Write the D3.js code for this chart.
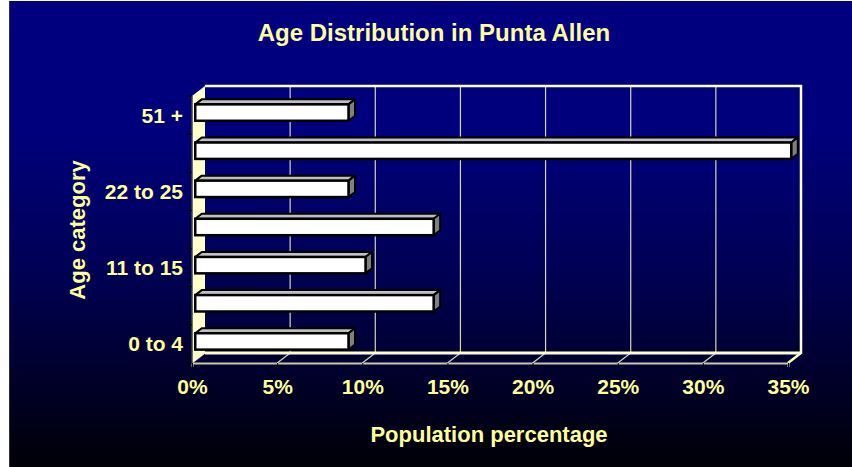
<!DOCTYPE html>
<html>
<head>
<meta charset="utf-8">
<script src="https://cdn.jsdelivr.net/npm/d3@7/dist/d3.min.js"></script>
<style>
  html, body { margin: 0; padding: 0; background: #ffffff; }
  svg { display: block; }
  text { font-family: "Liberation Sans", Arial, Helvetica, sans-serif; font-weight: bold; fill: #ffff99; }
</style>
</head>
<body>
<svg id="chart" width="852" height="467"></svg>
<script>
// Age groups, bottom to top
const categories = ["0 to 4", "5 to 10", "11 to 15", "16 to 21", "22 to 25", "26 to 50", "51 +"];
// Share of population in each group
const shares = [0.09, 0.14, 0.10, 0.14, 0.09, 0.35, 0.09];
// Labelled groups on the vertical axis
const shownCategories = ["0 to 4", "11 to 15", "22 to 25", "51 +"];
const xTickValues = [0, 0.05, 0.10, 0.15, 0.20, 0.25, 0.30, 0.35];

const titleText = "Age Distribution in Punta Allen";
const xTitle = "Population percentage";
const yTitle = "Age category";

const W = 852, H = 467;
const svg = d3.select("#chart");

// Backdrop: navy fading to black
const defs = svg.append("defs");
const grad = defs.append("linearGradient").attr("id", "bg").attr("x1", 0).attr("y1", 0).attr("x2", 0).attr("y2", 1);
grad.append("stop").attr("offset", "0%").attr("stop-color", "#000080");
grad.append("stop").attr("offset", "28%").attr("stop-color", "#00007c");
grad.append("stop").attr("offset", "62%").attr("stop-color", "#00004e");
grad.append("stop").attr("offset", "100%").attr("stop-color", "#000006");

svg.append("rect").attr("x", 0).attr("y", 0).attr("width", W).attr("height", H).attr("fill", "#ffffff");
svg.append("rect").attr("x", 10).attr("y", 1).attr("width", W - 10).attr("height", H - 1).attr("fill", "url(#bg)");
svg.append("line").attr("x1", 9.5).attr("x2", 9.5).attr("y1", 1).attr("y2", H).attr("stroke", "#303030").attr("stroke-width", 1);

// Front plane of the plot
const pLeft = 192, pRight = 788, pTop = 96, pBottom = 363;
// Depth of the 3-D box
const DX = 13, DY = -10;

const x = d3.scaleLinear().domain([0, 0.35]).range([pLeft, pRight]);
const ySlot = d3.scaleBand().domain(categories).range([pBottom, pTop]).padding(0);
const yBar = d3.scaleBand().domain(categories).range([pBottom, pTop]).paddingInner(0.57).paddingOuter(0.285);

const cream = "#ffffcc";
const gridCol = "#d6d6b8";

const plot = svg.append("g");

// Back wall gridlines
plot.selectAll("line.grid").data(xTickValues.slice(1, -1)).join("line")
  .attr("class", "grid")
  .attr("x1", d => x(d) + DX).attr("x2", d => x(d) + DX)
  .attr("y1", pTop + DY).attr("y2", pBottom + DY)
  .attr("stroke", gridCol).attr("stroke-width", 1.2);

// Floor gridlines (diagonals)
plot.selectAll("line.floor").data(xTickValues).join("line")
  .attr("class", "floor")
  .attr("x1", d => x(d)).attr("y1", pBottom)
  .attr("x2", d => x(d) + DX).attr("y2", pBottom + DY)
  .attr("stroke", gridCol).attr("stroke-width", 1.2);

// Left side wall
plot.append("path")
  .attr("d", `M${pLeft},${pTop}L${pLeft + DX},${pTop + DY}L${pLeft + DX},${pBottom + DY}L${pLeft},${pBottom}Z`)
  .attr("fill", cream);

// Back-wall frame: top edge, right edge, floor back edge
plot.append("path")
  .attr("d", `M${pLeft + DX},${pTop + DY}L${x(0.35) + DX},${pTop + DY}L${x(0.35) + DX},${pBottom + DY}L${x(0.35)},${pBottom}`)
  .attr("fill", "none").attr("stroke", cream).attr("stroke-width", 2.5);
plot.append("line")
  .attr("x1", pLeft + DX).attr("x2", x(0.35) + DX)
  .attr("y1", pBottom + DY).attr("y2", pBottom + DY)
  .attr("stroke", cream).attr("stroke-width", 3);

// Bars as 3-D boxes
const bx = DX * 0.25, by = DY * 0.25;     // front face depth
const bdx = DX * 0.5, bdy = DY * 0.5;     // bar depth
const data = categories.map((c, i) => ({ c, v: shares[i] }));

const bars = plot.selectAll("g.bar").data(data).join("g").attr("class", "bar");
bars.each(function(d) {
  const g = d3.select(this);
  const x0 = x(0) + bx, x1 = x(d.v) + bx;
  const y0 = yBar(d.c) + by, y1 = y0 + yBar.bandwidth();
  // top face
  g.append("path")
    .attr("d", `M${x0},${y0}L${x0 + bdx},${y0 + bdy}L${x1 + bdx},${y0 + bdy}L${x1},${y0}Z`)
    .attr("fill", "#c0c0c0").attr("stroke", "#000").attr("stroke-width", 2).attr("stroke-linejoin", "round");
  // end face
  g.append("path")
    .attr("d", `M${x1},${y0}L${x1 + bdx},${y0 + bdy}L${x1 + bdx},${y1 + bdy}L${x1},${y1}Z`)
    .attr("fill", "#808080").attr("stroke", "#000").attr("stroke-width", 2).attr("stroke-linejoin", "round");
  // front face
  g.append("rect")
    .attr("x", x0).attr("y", y0).attr("width", x1 - x0).attr("height", y1 - y0)
    .attr("fill", "#ffffff").attr("stroke", "#000").attr("stroke-width", 2.5);
});

// Horizontal axis line and ticks
const xAxis = d3.axisBottom(x).tickValues(xTickValues).tickSize(4).tickFormat(d3.format(".0%"));
const xg = svg.append("g").attr("transform", `translate(0,${pBottom})`).call(xAxis);
xg.select(".domain").attr("stroke", "#c8c8a8").attr("stroke-width", 2);
xg.selectAll(".tick line").attr("stroke", "#000");
xg.selectAll(".tick text").attr("y", 31).attr("dy", 0).attr("font-size", 21)
  .style("fill", "#ffff99").style("font-family", "'Liberation Sans', Arial, sans-serif").style("font-weight", "bold");

// Vertical axis line, ticks at group boundaries
const yg = svg.append("g");
yg.append("line").attr("x1", pLeft).attr("x2", pLeft).attr("y1", pTop).attr("y2", pBottom)
  .attr("stroke", "#404040").attr("stroke-width", 1.5);
const bounds = categories.map(c => ySlot(c)).concat([pBottom]);
yg.selectAll("line.tk").data(bounds).join("line").attr("class", "tk")
  .attr("x1", pLeft - 6).attr("x2", pLeft).attr("y1", d => d).attr("y2", d => d)
  .attr("stroke", "#000").attr("stroke-width", 1);
yg.selectAll("text").data(shownCategories).join("text")
  .attr("x", 183).attr("y", d => ySlot(d) + ySlot.bandwidth() / 2)
  .attr("dy", "0.36em").attr("text-anchor", "end").attr("font-size", 21)
  .text(d => d);

// Titles
svg.append("text").attr("x", 434).attr("y", 41).attr("text-anchor", "middle").attr("font-size", 24).text(titleText);
svg.append("text").attr("x", 489).attr("y", 442).attr("text-anchor", "middle").attr("font-size", 22).text(xTitle);
svg.append("text").attr("transform", "translate(85,230) rotate(-90)").attr("text-anchor", "middle").attr("font-size", 22).text(yTitle);
</script>
</body>
</html>
